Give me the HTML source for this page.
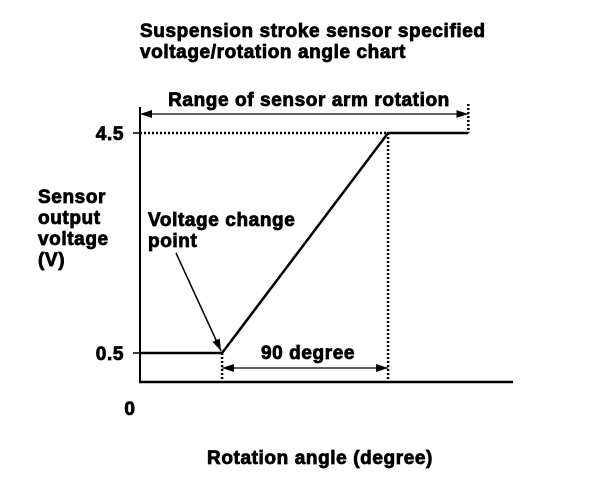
<!DOCTYPE html>
<html><head><meta charset="utf-8"><style>
body{margin:0;background:#fff;width:608px;height:474px;overflow:hidden}
svg text{font-family:"Liberation Sans",Arial,sans-serif;font-weight:bold;fill:#000;stroke:#000;stroke-width:0.8;letter-spacing:0.6px}
</style></head><body>
<svg width="608" height="474">
<defs><marker id="ah" markerWidth="12" markerHeight="8" refX="12" refY="4" orient="auto-start-reverse" markerUnits="userSpaceOnUse"><path d="M0,0L12,4L0,8z" fill="#000"/></marker></defs>
<g id="g"></g>
</svg>
<script>
const angles=[0,44.5,134.5,178];
const volts=[0.5,0.5,4.5,4.5];
const yTicks=[0.5,4.5];
const yTickLabels=["0.5","4.5"];
const X=a=>140+a*(166/90);
const Y=v=>353-(v-0.5)*(220/4);
const g=document.getElementById('g');const NS='http://www.w3.org/2000/svg';
function el(t,at,txt){const e=document.createElementNS(NS,t);for(const k in at)e.setAttribute(k,at[k]);if(txt!=null)e.textContent=txt;g.appendChild(e);return e;}
function txt(x,y,s,anchor,name,size){const e=el('text',{x:x,y:y,'font-size':size||19,'text-anchor':anchor||'start'},s);

return e;}
txt(140,37,"Suspension stroke sensor specified","start","chart-title-line1");
txt(140,58,"voltage/rotation angle chart","start","chart-title-line2");
let a=el('line',{x1:140,y1:107,x2:140,y2:382,stroke:'#000','stroke-width':2});


a=el('line',{x1:139,y1:382,x2:513,y2:382,stroke:'#000','stroke-width':2.5});


yTicks.forEach((v,i)=>{let t=el('line',{x1:133,y1:Y(v),x2:140,y2:Y(v),stroke:'#000','stroke-width':1.5});


txt(124,Y(v)+7,yTickLabels[i],"end","y-tick-label");});
txt(130,415,"0","middle","x-origin-label");
const dots=[[140,Y(4.5),X(angles[2]),Y(4.5)],[X(angles[1]),Y(0.5),X(angles[1]),382],[X(angles[2]),Y(4.5),X(angles[2]),382],[X(angles[3]),104,X(angles[3]),Y(4.5)]];
dots.forEach(d=>{let l=el('line',{x1:d[0],y1:d[1],x2:d[2],y2:d[3],stroke:'#000','stroke-width':2.5,'stroke-dasharray':'2,2'});

});
let p=angles.map((v,i)=>(i?'L':'M')+X(v)+','+Y(volts[i])).join('');
let s=el('path',{d:p,fill:'none',stroke:'#000','stroke-width':2.5});


let r=el('line',{x1:X(angles[0]),y1:114,x2:X(angles[3]),y2:114,stroke:'#000','stroke-width':1.2,'marker-start':'url(#ah)','marker-end':'url(#ah)'});


txt(309,106,"Range of sensor arm rotation","middle","range-label");
let d=el('line',{x1:X(angles[1]),y1:368,x2:X(angles[2]),y2:368,stroke:'#000','stroke-width':1.2,'marker-start':'url(#ah)','marker-end':'url(#ah)'});


txt(308,359,"90 degree","middle","ninety-degree-label");
let c=el('line',{x1:176,y1:253,x2:X(angles[1])-1,y2:Y(0.5)-2,stroke:'#000','stroke-width':1.5,'marker-end':'url(#ah)'});


txt(148,226,"Voltage change","start","change-point-label-1");
txt(148,247,"point","start","change-point-label-2");
["Sensor","output","voltage","(V)"].forEach((w,i)=>txt(38,203+i*21,w,"start","y-axis-title"));
txt(320,464,"Rotation angle (degree)","middle","x-axis-title");
</script>
</body></html>
